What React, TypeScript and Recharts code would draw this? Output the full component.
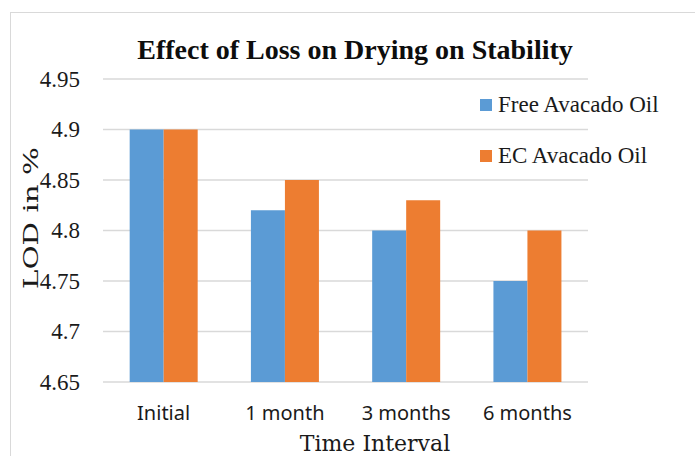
import React from 'react';
import { BarChart, Bar, XAxis, YAxis, CartesianGrid, Legend, Label } from 'recharts';

const categories = ['Initial', '1 month', '3 months', '6 months'];
const freeOil = [4.9, 4.82, 4.8, 4.75];
const ecOil = [4.9, 4.85, 4.83, 4.8];
const yTicks = [4.65, 4.7, 4.75, 4.8, 4.85, 4.9, 4.95];
const seriesNames = ['Free Avacado Oil', 'EC Avacado Oil'];
const chartTitle = 'Effect of Loss on Drying on Stability';
const xTitle = 'Time Interval';
const yTitle = 'LOD in %';

const data = categories.map((c, i) => ({ name: c, free: freeOil[i], ec: ecOil[i] }));

const renderLegend = (props: any) => {
  const payload = [...(props.payload || [])].sort(
    (a: any, b: any) => seriesNames.indexOf(a.value) - seriesNames.indexOf(b.value)
  );
  return (
    <div>
      {payload.map((p: any, i: number) => (
        <div key={i} style={{ display: 'flex', alignItems: 'center', height: 51 }}>
          <span style={{ display: 'inline-block', width: 12, height: 12, background: p.color, marginRight: 6 }} />
          <span style={{ fontFamily: 'Liberation Serif', fontSize: 23, color: '#1a1a1a', whiteSpace: 'nowrap' }}>{p.value}</span>
        </div>
      ))}
    </div>
  );
};

const renderYTick = (props: any) => {
  const { x, y, payload } = props;
  return (
    <text key={String(payload.value)} x={x} y={y} textAnchor="end" dominantBaseline="central" fontFamily="Liberation Serif" fontSize={23} fill="#1a1a1a">
      {String(payload.value)}
    </text>
  );
};

export default function App() {
  return (
    <div style={{ position: 'absolute', left: 0, top: 0, width: 695, height: 456, background: '#fff', overflow: 'hidden' }}>
      <div style={{ position: 'absolute', left: 10, top: 12, width: 700, height: 460, borderTop: '1.5px solid #d9d9d9', borderLeft: '1.5px solid #d9d9d9' }} />
      <div style={{ position: 'absolute', left: 0, top: 33, width: 710, textAlign: 'center', fontFamily: 'Liberation Serif', fontWeight: 'bold', fontSize: 28, color: '#0d0d0d', lineHeight: '34px' }}>
        {chartTitle}
      </div>
      <div style={{ position: 'absolute', left: 0, top: 0 }}>
        <BarChart width={695} height={456} data={data} margin={{ top: 79, right: 107, bottom: 34, left: 10 }} barGap={0} barCategoryGap="22%">
          <CartesianGrid vertical={false} stroke="#d9d9d9" strokeWidth={1.5} />
          <XAxis dataKey="name" axisLine={false} tickLine={false} height={40} tickMargin={18}
            tick={{ fontFamily: 'Noto Sans', fontSize: 20, fill: '#1a1a1a' }}>
            <Label content={() => (
              <text x={375} y={451} textAnchor="middle" fontFamily="DejaVu Serif" fontSize={22} fill="#1a1a1a">{xTitle}</text>
            )} />
          </XAxis>
          <YAxis width={93} domain={[4.65, 4.95]} ticks={yTicks} allowDataOverflow axisLine={false} tickLine={false} tickMargin={17}
            tick={renderYTick}>
            <Label content={() => (
              <text x={0} y={0} transform="translate(31,218) rotate(-90) scale(1.4,1)" textAnchor="middle" dominantBaseline="central" fontFamily="DejaVu Serif" fontSize={21} fill="#1a1a1a">{yTitle}</text>
            )} />
          </YAxis>
          <Legend layout="vertical" align="center" verticalAlign="middle" content={renderLegend}
            wrapperStyle={{ position: 'absolute', left: 480, top: 79, width: 215, height: 102 }} />
          <Bar dataKey="free" name={seriesNames[0]} fill="#5b9bd5" isAnimationActive={false} />
          <Bar dataKey="ec" name={seriesNames[1]} fill="#ed7d31" isAnimationActive={false} />
        </BarChart>
      </div>
    </div>
  );
}
